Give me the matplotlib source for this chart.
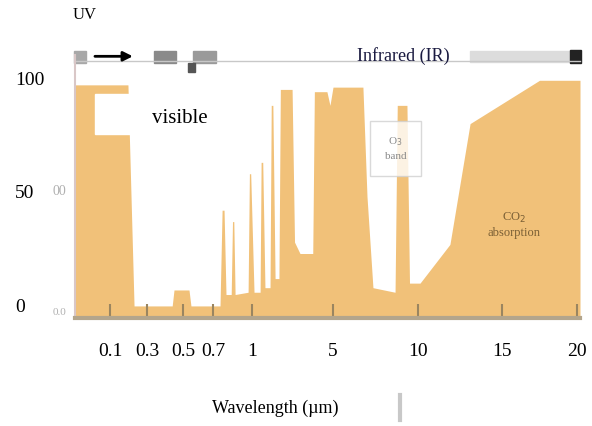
import numpy as np
import matplotlib
matplotlib.use("Agg")
import matplotlib.pyplot as plt
from matplotlib.lines import Line2D
from matplotlib.patches import Rectangle

plt.rcParams['font.family'] = ['Liberation Serif', 'DejaVu Serif']

# atmospheric opacity (%) against wavelength (um)
wavelength = [0.0, 0.197, 0.23, 0.44, 0.45, 0.54, 0.553, 0.754, 0.77, 0.785, 0.80,
              0.84, 0.85, 0.86, 0.87, 0.97, 0.98, 0.99, 1.1, 1.4, 1.45, 1.53, 1.64,
              1.89, 1.95, 2.03, 2.14, 2.33, 2.4, 2.98, 3.1, 3.37, 4.0, 4.08, 4.7,
              4.85, 5.0, 6.76, 7.0, 7.35, 8.65, 8.78, 9.35, 9.5, 10.12, 11.9, 13.1,
              17.5, 20.2]
opacity = [97, 97, 0, 0, 7, 7, 0, 0, 42, 42, 5,
           5, 37, 37, 5, 6, 58, 58, 6, 6, 63, 63, 8,
           8, 88, 88, 12, 12, 95, 95, 28, 23, 23, 94, 94,
           88, 96, 96, 48, 8, 6, 88, 88, 10, 10, 27, 80,
           99, 99]

tick_wl = [0.1, 0.3, 0.5, 0.7, 1, 5, 10, 15, 20]
tick_labels = ['0.1', '0.3', '0.5', '0.7', '1', '5', '10', '15', '20']

# the x axis is neither linear nor log: piecewise scale through the tick values
knot_wl = [0.0] + tick_wl + [20.2]
knot_pos = [75, 110, 147, 183, 213, 252, 333, 418, 502, 577, 580]


def fwd(w):
    return np.interp(w, knot_wl, knot_pos)


def inv(p):
    return np.interp(p, knot_pos, knot_wl)


fill = '#F1C179'
ymin, ymax = -5.3, 110.1

fig = plt.figure(figsize=(5.92, 4.26), dpi=100)
ax = fig.add_axes([75 / 592, 1 - 318 / 426, 505 / 592, 263 / 426])
ax.set_xscale('function', functions=(fwd, inv))
ax.fill_between(wavelength, ymin, opacity, color=fill, lw=0)
ax.set_xlim(0, 20.2)
ax.set_ylim(ymin, ymax)

ax.set_xticks(tick_wl)
ax.set_xticklabels(tick_labels)
ax.tick_params(axis='x', direction='in', length=10, width=1.5, color='#9a8560',
               labelsize=14, pad=18)
ax.set_yticks([0, 50, 100])
ax.set_yticklabels(['0', '50', '100'])
ax.tick_params(axis='y', length=0, labelsize=14, pad=43)
for lab in ax.get_yticklabels():
    lab.set_ha('left')
ax.minorticks_off()

for s in ['top', 'right']:
    ax.spines[s].set_visible(False)
ax.spines['bottom'].set_color('#b3a58c')
ax.spines['bottom'].set_linewidth(3)
ax.spines['left'].set_color('#d9c7c7')
ax.spines['left'].set_linewidth(1.5)

# faint ghost labels next to the axis
ax.text(-0.03, 50, '00', transform=ax.get_yaxis_transform(), ha='center', va='center',
        fontsize=10, color='#b0b0b0')
ax.text(-0.03, -3, '0.0', transform=ax.get_yaxis_transform(), ha='center', va='center',
        fontsize=8, color='#b0b0b0')

# "visible" box
ax.add_patch(Rectangle((0.04, 0.70), 0.24, 0.15, transform=ax.transAxes,
                       color='white', zorder=3))
ax.text(0.208, 0.76, 'visible', transform=ax.transAxes, ha='center', va='center',
        fontsize=15, zorder=4)

# grey label box in the window
ax.add_patch(Rectangle((0.585, 0.54), 0.10, 0.21, transform=ax.transAxes,
                       facecolor='white', edgecolor='#d0d0d0', lw=1, alpha=0.8, zorder=3))
ax.text(0.635, 0.645, 'O$_3$\nband', transform=ax.transAxes, ha='center', va='center',
        fontsize=8, color='#8a8a8a', zorder=4, linespacing=1.6)

ax.text(0.87, 0.355, 'CO$_2$\nabsorption', transform=ax.transAxes, ha='center',
        va='center', fontsize=9, color='#7a5f35', zorder=4)

# band bar along the top
ax.plot([0, 1], [0.977, 0.977], transform=ax.transAxes, color='#c8c8c8', lw=1,
        clip_on=False)
for xa, w, c in [(0.01, 0.022, '#a8a8a8'), (0.178, 0.045, '#8a8a8a'), (0.257, 0.045, '#9a9a9a')]:
    ax.add_patch(Rectangle((xa - w / 2, 0.97), w, 0.045, transform=ax.transAxes,
                           color=c, clip_on=False))
ax.add_patch(Rectangle((0.223, 0.935), 0.014, 0.035, transform=ax.transAxes,
                       color='#555555', clip_on=False))
ax.annotate('', xy=(0.12, 0.995), xytext=(0.034, 0.995), xycoords='axes fraction',
            arrowprops=dict(arrowstyle='-|>', color='black', lw=2, mutation_scale=14))
ax.text(0.65, 0.995, 'Infrared (IR)', transform=ax.transAxes, ha='center', va='center',
        fontsize=13, color='#1a1a40')
ax.add_patch(Rectangle((0.782, 0.975), 0.21, 0.04, transform=ax.transAxes,
                       color='#dcdcdc', clip_on=False))
ax.add_patch(Rectangle((0.98, 0.97), 0.022, 0.05, transform=ax.transAxes,
                       color='#222222', clip_on=False))

fig.text(85 / 592, 1 - 15 / 426, 'UV', ha='center', va='center', fontsize=12)
fig.text(275 / 592, 1 - 408 / 426, 'Wavelength (\u00b5m)', ha='center', va='center',
         fontsize=13)
fig.add_artist(Line2D([400 / 592, 400 / 592], [1 - 395 / 426, 1 - 420 / 426],
                      color='#c8c8c8', lw=3))

fig.savefig('out.png', dpi=100)
